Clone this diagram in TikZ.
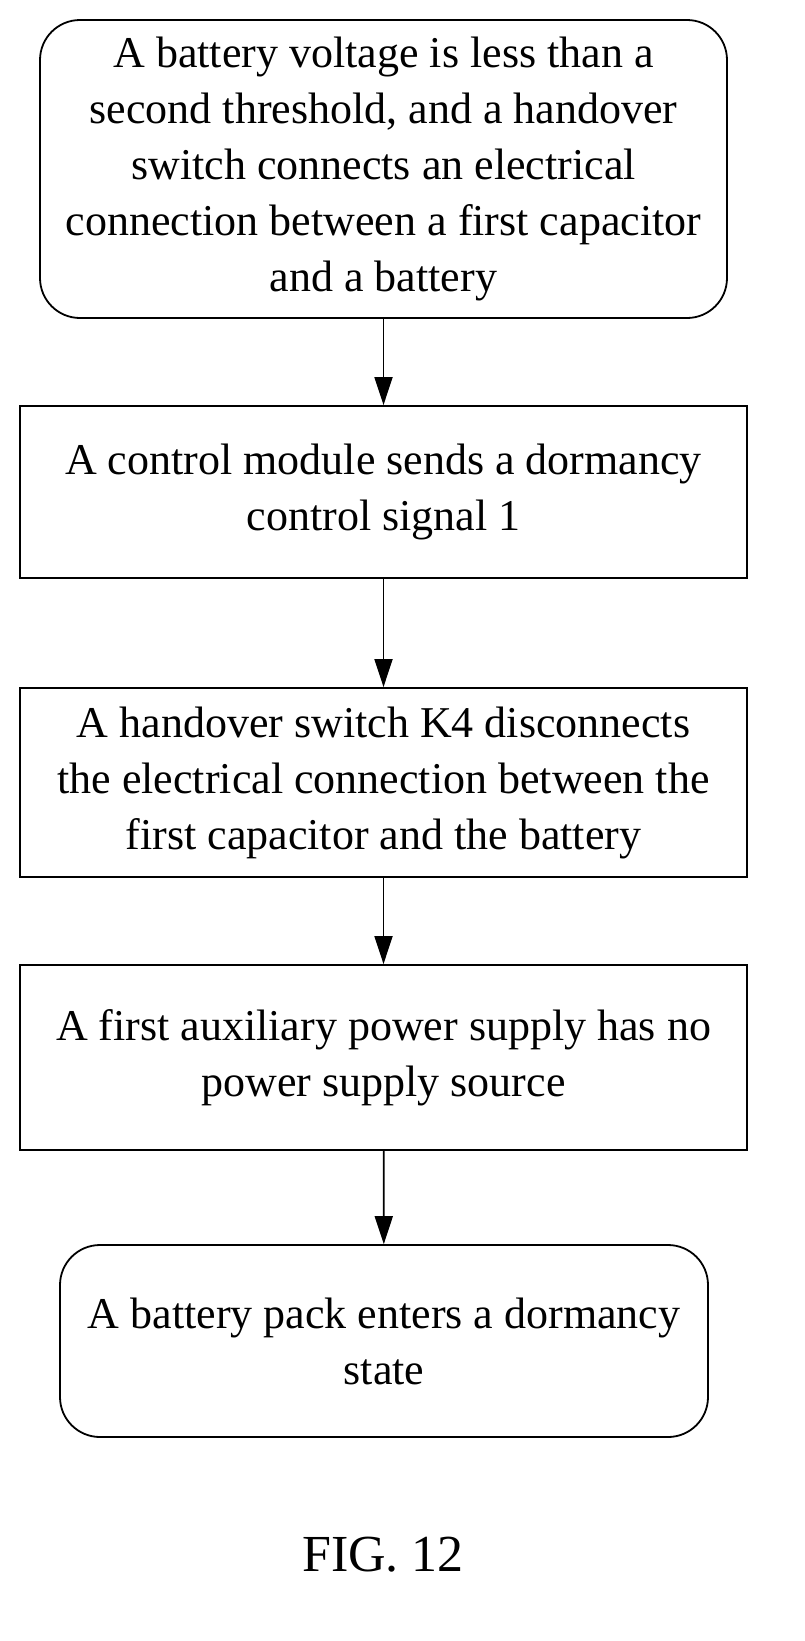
\documentclass[tikz,border=0pt]{standalone}
\usepackage{fontspec}
\setmainfont{Liberation Serif}
\usetikzlibrary{arrows.meta}
\begin{document}
\begin{tikzpicture}[x=1pt,y=-1pt,
  box/.style={draw,line width=1.8pt,align=center,font=\fontsize{44}{56}\selectfont,inner sep=0pt},
  arr/.style={-{Triangle[length=28pt,width=18pt]},line width=1.8pt}]
\useasboundingbox (0,0) rectangle (805,1641);
\node[box,rounded corners=40pt,minimum width=687pt,minimum height=298pt] (a) at (383.5,169)
 {A battery voltage is less than a\\second threshold, and a handover\\switch connects an electrical\\connection between a first capacitor\\and a battery};
\node[box,minimum width=727pt,minimum height=172pt] (b) at (383.5,492)
 {A control module sends a dormancy\\control signal 1};
\node[box,minimum width=727pt,minimum height=189pt] (c) at (383.5,782.5)
 {A handover switch K4 disconnects\\the electrical connection between the\\first capacitor and the battery};
\node[box,minimum width=727pt,minimum height=185pt] (d) at (383.5,1057.5)
 {A first auxiliary power supply has no\\power supply source};
\node[box,rounded corners=40pt,minimum width=648pt,minimum height=192pt] (e) at (384,1341)
 {A battery pack enters a dormancy\\state};
\node[font=\fontsize{52}{60}\selectfont] (f) at (383,1555) {FIG. 12};
\draw[arr] (a) -- (b);
\draw[arr] (b) -- (c);
\draw[arr] (c) -- (d);
\draw[arr] (d) -- (e);
\end{tikzpicture}
\end{document}
